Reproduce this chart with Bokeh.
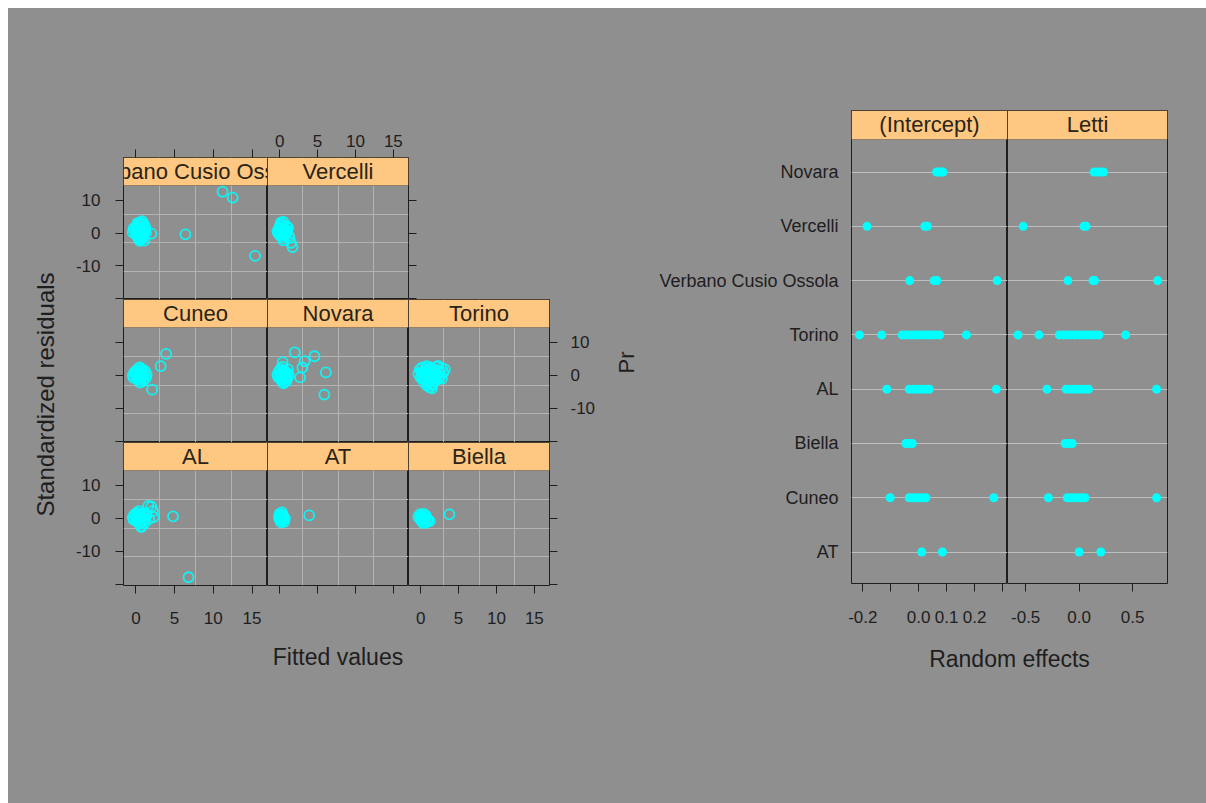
import math
from bokeh.plotting import figure
from bokeh.layouts import row, column
from bokeh.models import LinearAxis, FixedTicker, Grid, BoxAnnotation, Range1d, Spacer
from bokeh.core.properties import value
from bokeh.embed import file_html
from bokeh.resources import INLINE

# ---------------- data: left lattice (fitted values vs standardized residuals) ----------------
vco_fit = [-0.4, -0.2, 0.0, 0.1, 0.2, 0.3, 0.4, 0.5, 0.6, 0.7, 0.8, 0.9, 1.0, 1.1, 1.2, 0.3, 0.6, 0.9, 0.2, 0.5, 0.8, 1.0, 1.3, 0.4, 0.7,
           0.1, 0.3, 0.5, 0.7, 0.9, 1.1, 0.0, 0.4, 0.8, 1.2, 0.6, 0.2, -0.3, 0.5, 0.9, 2.0, 6.4, 11.2, 12.5, 15.4]
vco_res = [0.2, 1.0, -0.5, 1.8, 0.6, -1.2, 2.9, 0.0, -2.0, 1.4, 3.6, -0.8, 0.5, -2.3, 1.9, 0.9, 2.4, -1.6, -0.3, -0.9, 0.7, 2.8, 0.1, -1.8, 3.1,
           2.0, -1.5, 1.1, -0.2, 2.4, 0.3, 0.9, 1.5, -1.1, 0.8, -0.6, 3.0, 1.4, -2.4, 1.2, -0.2, -0.4, 12.6, 10.8, -7.0]
ver_fit = [-0.3, -0.1, 0.0, 0.1, 0.2, 0.3, 0.4, 0.5, 0.6, 0.7, 0.8, 0.2, 0.5, 0.9, 1.1, 1.3, 1.5, 1.7, 0.4, 0.0,
           -0.2, 0.1, 0.3, 0.6, 0.8, 1.0, 0.2, 0.5, 0.9, 1.2]
ver_res = [0.5, 1.5, -0.6, 2.6, 0.0, 1.2, -1.4, 2.0, 0.4, -0.8, 1.0, 3.2, -2.2, -0.2, 1.6, -1.5, -3.0, -4.3, 0.8, 0.9,
           0.0, 0.4, 2.2, 1.4, -0.4, 0.6, -0.8, 3.4, 2.1, -0.9]
cun_fit = [-0.4, -0.2, 0.0, 0.1, 0.2, 0.3, 0.4, 0.5, 0.6, 0.7, 0.8, 0.9, 1.0, 1.1, 1.2, 0.3, 0.6, 0.9, 0.2, 0.5,
           -0.3, 0.0, 0.4, 0.7, 1.0, 1.3, 0.1, 0.5, 0.8, 1.4, 3.2, 3.9, 2.1]
cun_res = [0.0, 0.9, -0.4, 1.6, -1.0, 0.5, 2.2, -1.5, 1.0, -0.6, 1.9, 0.2, -1.2, 0.8, 1.3, -0.1, 0.4, -1.8, 1.2, 2.4,
           -0.7, 1.3, -0.9, 1.5, -0.3, -0.8, 0.3, -2.2, 0.6, 0.3, 2.8, 6.5, -4.3]
nov_fit = [-0.3, -0.1, 0.0, 0.1, 0.2, 0.3, 0.4, 0.5, 0.6, 0.7, 0.8, 0.9, 1.0, 1.2, 0.4, 0.7, 0.2, 1.1,
           -0.2, 0.1, 0.3, 0.6, 0.9, 0.5, 0.8, 1.0, 0.4, 2.0, 3.0, 4.6, 6.1, 5.9, 2.7, 3.3]
nov_res = [0.3, 1.2, -0.8, 2.0, -0.2, 0.9, -1.6, 1.5, 0.2, -1.0, 1.1, -0.4, 0.6, 0.0, 2.6, -2.0, -1.4, 1.8,
           -0.5, 0.6, -1.2, 1.3, -1.7, -2.4, 0.4, -0.9, 4.0, 7.0, 2.4, 5.8, 0.9, -5.8, -0.6, 4.3]
tor_fit = [-0.3, -0.1, 0.0, 0.2, 0.3, 0.5, 0.6, 0.8, 1.0, 1.2, 1.4, 1.6, 1.8, 2.0, 2.2, 2.4, 2.6, 2.8, 3.0, 3.2, 0.4, 0.8, 1.2, 1.6, 2.0, 2.4, 0.9, 1.3, 1.7, 1.1, 1.5, 0.6, 2.8, 2.3,
           0.1, 0.4, 0.7, 1.0, 1.3, 1.6, 1.9, 2.2, 2.5, 0.2, 0.5, 0.9, 1.4, 1.8, 2.1, 1.0, 1.5]
tor_res = [0.5, 1.8, -0.6, 2.4, 0.8, -1.2, 1.5, 2.8, 0.2, -1.8, 1.0, 2.0, -0.5, 0.6, 2.6, 1.4, -0.2, 2.2, 0.9, 1.8, -2.0, -3.0, -3.6, -2.6, -1.4, -0.9, 0.4, 1.2, 0.1, -0.8, -3.9, 0.0, -1.0, 2.9,
           1.0, 0.2, 2.2, 1.6, 2.4, 0.8, 1.4, 0.0, 0.9, -0.8, -0.4, -1.2, -1.9, -1.8, -0.3, -2.4, -2.9]
al_fit = [-0.4, -0.2, 0.0, 0.1, 0.2, 0.3, 0.4, 0.5, 0.6, 0.7, 0.8, 0.9, 1.0, 1.2, 0.4, 0.7, 1.4, 1.7, 2.0, 2.2, 1.6, 2.3, 0.8,
          -0.3, 0.0, 0.3, 0.6, 0.9, 1.1, 0.2, 0.5, 1.3, 4.8, 6.8]
al_res = [0.3, 1.1, -0.5, 1.7, -1.0, 0.6, 0.0, -1.6, 1.2, -2.3, 0.4, -0.8, 1.6, -0.3, 2.2, -2.6, 0.9, -0.2, 3.6, 2.2, 3.8, 0.4, 0.0,
          -0.4, 0.6, -0.2, -1.1, 1.0, -1.5, 1.4, 0.9, 1.1, 0.6, -17.8]
at_fit = [-0.1, 0.0, 0.1, 0.2, 0.3, 0.4, 0.5, 0.6, 0.2, 0.4, 0.7, 0.3, 0.0, 0.2, 0.5, 0.1, 3.9]
at_res = [0.4, 1.4, -0.5, 0.8, 1.8, -0.2, 0.6, -1.0, -1.2, 1.1, 0.0, -0.6, -0.3, 0.3, -0.4, 1.0, 0.9]
bie_fit = [-0.3, -0.1, 0.0, 0.1, 0.2, 0.3, 0.4, 0.5, 0.6, 0.8, 1.0, 1.2, 0.3, 0.7, 0.0, 0.2, 0.5, 0.9, 3.8]
bie_res = [0.4, 1.2, -0.4, 0.9, -0.9, 0.3, 1.4, -0.6, 0.5, -1.2, -0.5, -0.8, -1.4, 0.8, 0.2, 0.6, 0.1, -0.3, 1.2]

fit_ticks = [0, 5, 10, 15]
res_ticks = [-20, -10, 0, 10]
res_labels = {-20: "", -10: "-10", 0: "0", 10: "10"}

# ---------------- data: right dotplot (random effects) ----------------
cats = ["AT", "Cuneo", "Biella", "AL", "Torino", "Verbano Cusio Ossola", "Vercelli", "Novara"]  # bottom -> top
int_at = [0.011, 0.085]
int_cuneo = [-0.102, -0.034, -0.022, -0.010, 0.002, 0.014, 0.026, 0.269]
int_biella = [-0.046, -0.035, -0.023]
int_al = [-0.114, -0.034, -0.022, -0.010, 0.002, 0.014, 0.026, 0.038, 0.278]
int_torino = [-0.212, -0.132, -0.059, -0.047, -0.035, -0.023, -0.011, 0.0, 0.012, 0.024, 0.036, 0.048, 0.060, 0.075, 0.171]
int_vco = [-0.032, 0.055, 0.065, 0.281]
int_vercelli = [-0.185, 0.022, 0.031]
int_novara = [0.064, 0.072, 0.080, 0.087]
let_at = [0.0, 0.203]
let_cuneo = [-0.288, -0.111, -0.078, -0.045, -0.012, 0.022, 0.055, 0.725]
let_biella = [-0.131, -0.098, -0.065]
let_al = [-0.301, -0.121, -0.086, -0.051, -0.016, 0.019, 0.054, 0.088, 0.725]
let_torino = [-0.572, -0.376, -0.186, -0.149, -0.112, -0.075, -0.038, 0.0, 0.037, 0.074, 0.111, 0.149, 0.186, 0.435]
let_vco = [-0.105, 0.130, 0.145, 0.735]
let_vercelli = [-0.523, 0.045, 0.065]
let_novara = [0.140, 0.170, 0.200, 0.229]
int_ticks = [-0.2, -0.1, 0.0, 0.1, 0.2, 0.3]
int_labels = {-0.2: "-0.2", -0.1: "", 0.0: "0.0", 0.1: "0.1", 0.2: "0.2", 0.3: ""}
let_ticks = [-0.5, 0.0, 0.5]
let_labels = {-0.5: "-0.5", 0.0: "0.0", 0.5: "0.5"}

# ---------------- style ----------------
BG = "#8f8f8f"
GRID = "#b3b3b3"
DOTLINE = "#bdbdbd"
STRIP = "#fec882"
DARK = "#1e1e1e"
CYAN = "#00ffff"
FONT = "Liberation Sans"
TICK_FS = "17px"
STRIP_FS = "22px"
TITLE_FS = "23px"

XR = (-1.6, 17.0)
YR = (-20.3, 14.5)
STRIP_PX = 28


def base_fig(w, h, xr, yr, bl=0, br=0, bt=0, bb=0, outline=True):
    p = figure(width=w, height=h, x_range=Range1d(*xr), y_range=Range1d(*yr),
               x_axis_location=None, y_axis_location=None, toolbar_location=None,
               output_backend="svg", min_border=0, min_border_left=bl, min_border_right=br,
               min_border_top=bt, min_border_bottom=bb, background_fill_color=BG,
               border_fill_color=BG, outline_line_color=DARK if outline else None,
               outline_line_width=1)
    p.center = []
    return p


def add_axis(p, side, ticks, overrides, standoff=12, label=None, label_standoff=10, tick_out=8):
    ax = LinearAxis(ticker=FixedTicker(ticks=ticks, minor_ticks=[]))
    ax.major_label_overrides = overrides
    ax.axis_line_color = None
    ax.major_tick_in = 0
    ax.major_tick_out = tick_out
    ax.major_tick_line_color = DARK
    ax.minor_tick_line_color = None
    ax.major_label_text_font = FONT
    ax.major_label_text_font_size = TICK_FS
    ax.major_label_text_color = DARK
    ax.major_label_standoff = standoff
    if label is not None:
        ax.axis_label = label
        ax.axis_label_text_font = FONT
        ax.axis_label_text_font_size = TITLE_FS
        ax.axis_label_text_font_style = "normal"
        ax.axis_label_text_color = DARK
        ax.axis_label_standoff = label_standoff
    p.add_layout(ax, side)
    return ax


def add_strip(p, ybottom, ytop, xr, name):
    box = BoxAnnotation(bottom=ybottom, fill_color=STRIP, fill_alpha=1.0,
                        line_color=DARK, line_width=1, level="underlay")
    p.add_layout(box)
    p.text(x=[(xr[0] + xr[1]) / 2], y=[(ybottom + ytop) / 2], text=[name],
           text_align="center", text_baseline="middle", text_font=value(FONT),
           text_font_size=STRIP_FS, text_color="#2a2418")


def lattice_panel(name, fit, res, fw, fh, bl=0, br=0, bt=0, bb=0):
    ypp = (YR[1] - YR[0]) / (fh - STRIP_PX)
    ytop = YR[1] + STRIP_PX * ypp
    p = base_fig(fw + bl + br, fh + bt + bb, XR, (YR[0], ytop), bl, br, bt, bb)
    gx = [XR[0] + (XR[1] - XR[0]) * f for f in (0.25, 0.5, 0.75)]
    gy = [YR[0] + (YR[1] - YR[0]) * f for f in (0.25, 0.5, 0.75)]
    p.add_layout(Grid(dimension=0, ticker=FixedTicker(ticks=gx, minor_ticks=[]),
                      grid_line_color=GRID, grid_line_width=1))
    p.add_layout(Grid(dimension=1, ticker=FixedTicker(ticks=gy, minor_ticks=[]),
                      grid_line_color=GRID, grid_line_width=1))
    add_strip(p, YR[1], ytop, XR, name)
    p.scatter(fit, res, marker="circle", size=10, fill_color=None, line_color=CYAN,
              line_width=1.8, line_alpha=0.9)
    return p


EMPTY_RES = {t: "" for t in res_ticks}
EMPTY_FIT = {t: "" for t in fit_ticks}
FIT_LABELS = {t: str(t) for t in fit_ticks}

C1, C2, C3 = 144, 141, 141
BL = 53
TOPB = 50
BOTB = 100

# row 1
p_vco = lattice_panel("Verbano Cusio Ossola", vco_fit, vco_res, C1, 142, bl=BL, bt=TOPB)
add_axis(p_vco, "left", res_ticks, res_labels, standoff=15)
add_axis(p_vco, "above", fit_ticks, EMPTY_FIT)
p_ver = lattice_panel("Vercelli", ver_fit, ver_res, C2, 142, br=C3 + 96, bt=TOPB)
add_axis(p_ver, "above", fit_ticks, FIT_LABELS, standoff=3)
add_axis(p_ver, "right", res_ticks, EMPTY_RES)

# row 2
p_cun = lattice_panel("Cuneo", cun_fit, cun_res, C1, 143, bl=BL)
add_axis(p_cun, "left", res_ticks, EMPTY_RES)
p_nov = lattice_panel("Novara", nov_fit, nov_res, C2, 143)
p_tor = lattice_panel("Torino", tor_fit, tor_res, C3, 143, br=60)
add_axis(p_tor, "right", res_ticks, res_labels, standoff=13)
p_pr = base_fig(36, 143, (0, 36), (0, 143), outline=False)
p_pr.text(x=[17], y=[80], text=["Pr"], angle=math.pi / 2, text_align="center",
          text_baseline="middle", text_font=value(FONT), text_font_size="22px", text_color=DARK)

# row 3
p_al = lattice_panel("AL", al_fit, al_res, C1, 143, bl=BL, bb=BOTB)
add_axis(p_al, "left", res_ticks, res_labels, standoff=15)
add_axis(p_al, "below", fit_ticks, FIT_LABELS, standoff=18)
p_at = lattice_panel("AT", at_fit, at_res, C2, 143, bb=BOTB)
add_axis(p_at, "below", fit_ticks, EMPTY_FIT, label="Fitted values", label_standoff=50)
p_bie = lattice_panel("Biella", bie_fit, bie_res, C3, 143, br=96, bb=BOTB)
add_axis(p_bie, "right", res_ticks, EMPTY_RES)
add_axis(p_bie, "below", fit_ticks, FIT_LABELS, standoff=18)

# y label figure
p_ylab = base_fig(62, 795, (0, 62), (0, 795), outline=False)
p_ylab.text(x=[37], y=[409], text=["Standardized residuals"], angle=math.pi / 2,
            text_align="center", text_baseline="middle", text_font=value(FONT),
            text_font_size="24px", text_color=DARK)

lattice = column(Spacer(width=575, height=157 - TOPB - 8),
                 row(p_vco, p_ver),
                 row(p_cun, p_nov, p_tor, p_pr),
                 row(p_al, p_at, p_bie))
left_block = row(p_ylab, lattice)

# ---------------- right dotplot ----------------
Y0, YS, YT = 0.42, 8.6, 8.6 + 29 / 54.3
INT_XR = (-0.2405, 0.318)
LET_XR = (-0.67, 0.827)
RB = 39


def dot_panel(name, groups, xr, fw, bl=0, br=0):
    p = base_fig(fw + bl + br, 473 + 60, xr, (Y0, YT), bl, br, 0, 60)
    p.add_layout(Grid(dimension=1, ticker=FixedTicker(ticks=list(range(1, len(cats) + 1)), minor_ticks=[]),
                      grid_line_color=DOTLINE, grid_line_width=1))
    add_strip(p, YS, YT, xr, name)
    xs, ys = [], []
    for i, vals in enumerate(groups):
        xs += vals
        ys += [i + 1] * len(vals)
    p.scatter(xs, ys, marker="circle", size=9, fill_color=CYAN, line_color=None)
    return p


int_groups = [int_at, int_cuneo, int_biella, int_al, int_torino, int_vco, int_vercelli, int_novara]
let_groups = [let_at, let_cuneo, let_biella, let_al, let_torino, let_vco, let_vercelli, let_novara]

p_int = dot_panel("(Intercept)", int_groups, INT_XR, 156, bl=206)
cat_ax = add_axis(p_int, "left", list(range(1, len(cats) + 1)),
                  {i + 1: c for i, c in enumerate(cats)}, standoff=13, tick_out=0)
cat_ax.major_label_text_font_size = "18px"
add_axis(p_int, "below", int_ticks, int_labels, standoff=19)
p_let = dot_panel("Letti", let_groups, LET_XR, 160, br=RB)
add_axis(p_let, "below", let_ticks, let_labels, standoff=19)

p_rlab = base_fig(206 + 156 + 160 + RB, 30, (0, 1), (0, 1), bl=206, br=RB, outline=False)
p_rlab.text(x=[0.5], y=[0.5], text=["Random effects"], text_align="center",
            text_baseline="middle", text_font=value(FONT), text_font_size=TITLE_FS,
            text_color=DARK)

right_block = column(Spacer(width=206 + 156 + 160 + RB, height=110 - 8), row(p_int, p_let), p_rlab)

root = row(left_block, right_block, width=1198, height=795, margin=(8, 0, 0, 8),
           styles={"background-color": BG})

open("out.html", "w").write(file_html(root, INLINE))
